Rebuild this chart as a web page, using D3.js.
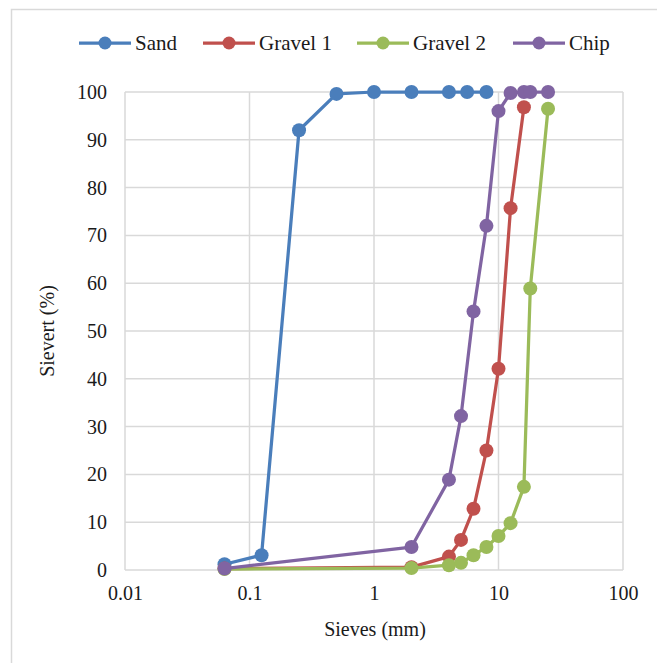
<!DOCTYPE html>
<html>
<head>
<meta charset="utf-8">
<script src="https://cdn.jsdelivr.net/npm/d3@7"></script>
<style>
  body { margin: 0; background: #fff; }
  svg { display: block; }
  svg text { font-family: "Liberation Serif", "Times New Roman", "DejaVu Serif", serif !important; fill: #1a1a1a; }
</style>
</head>
<body>
<svg id="chart" width="657" height="663"></svg>
<script>
// sieve sizes (mm) and percent passing for each material
const sandSizes = [0.063, 0.125, 0.25, 0.5, 1, 2, 4, 5.6, 8];
const sandPass = [1.2, 3.1, 92, 99.6, 100, 100, 100, 100, 100];

const gravel1Sizes = [0.063, 2, 4, 5, 6.3, 8, 10, 12.5, 16];
const gravel1Pass = [0.3, 0.6, 2.8, 6.3, 12.8, 25, 42.1, 75.7, 96.8];

const gravel2Sizes = [0.063, 2, 4, 5, 6.3, 8, 10, 12.5, 16, 18, 25];
const gravel2Pass = [0.2, 0.4, 1.0, 1.5, 3.1, 4.8, 7.1, 9.8, 17.4, 58.9, 96.5];

const chipSizes = [0.063, 2, 4, 5, 6.3, 8, 10, 12.5, 16, 18, 25];
const chipPass = [0.3, 4.8, 18.9, 32.2, 54.1, 72, 96, 99.8, 100, 100, 100];

const seriesNames = ["Sand", "Gravel 1", "Gravel 2", "Chip"];
const seriesColors = ["#4a7ebb", "#c0504d", "#9bbb59", "#8064a2"];

const xTicks = [0.01, 0.1, 1, 10, 100];
const yTicks = [0, 10, 20, 30, 40, 50, 60, 70, 80, 90, 100];

const series = [
    { name: seriesNames[0], x: sandSizes, y: sandPass },
    { name: seriesNames[1], x: gravel1Sizes, y: gravel1Pass },
    { name: seriesNames[2], x: gravel2Sizes, y: gravel2Pass },
    { name: seriesNames[3], x: chipSizes, y: chipPass }
].map((s, i) => ({
    name: s.name,
    color: seriesColors[i],
    points: s.x.map((d, j) => ({ x: d, y: s.y[j] }))
}));

const svg = d3.select("#chart");

// outer chart frame (only top/left edges fall inside the picture)
svg.append("rect")
    .attr("x", 11.5).attr("y", 9.5)
    .attr("width", 700).attr("height", 700)
    .attr("fill", "none")
    .attr("stroke", "#d9d9d9")
    .attr("stroke-width", 1.5);

const plot = { left: 125, right: 623, top: 92, bottom: 570 };

const x = d3.scaleLog().domain([0.01, 100]).range([plot.left, plot.right]);
const y = d3.scaleLinear().domain([0, 100]).range([plot.bottom, plot.top]);

// gridlines
svg.append("g")
    .attr("stroke", "#d9d9d9")
    .attr("stroke-width", 1.5)
    .selectAll("line")
    .data(yTicks)
    .join("line")
    .attr("x1", plot.left).attr("x2", plot.right)
    .attr("y1", d => y(d)).attr("y2", d => y(d));

svg.append("g")
    .attr("stroke", "#d9d9d9")
    .attr("stroke-width", 1.5)
    .selectAll("line")
    .data(xTicks)
    .join("line")
    .attr("x1", d => x(d)).attr("x2", d => x(d))
    .attr("y1", plot.top).attr("y2", plot.bottom);

// axes (labels only, lines drawn by grid)
const yAxis = svg.append("g")
    .attr("transform", `translate(${plot.left},0)`)
    .call(d3.axisLeft(y).tickValues(yTicks).tickSize(0).tickPadding(18));
yAxis.select(".domain").remove();
yAxis.selectAll("text").style("font-size", "20px");

const xAxis = svg.append("g")
    .attr("transform", `translate(0,${plot.bottom})`)
    .call(d3.axisBottom(x).tickValues(xTicks).tickFormat(d => String(d)).tickSize(0).tickPadding(16));
xAxis.select(".domain").remove();
xAxis.selectAll("text").style("font-size", "20px");

// axis titles
svg.append("text")
    .attr("x", (plot.left + plot.right) / 2 + 1)
    .attr("y", 636)
    .attr("text-anchor", "middle")
    .style("font-size", "20px")
    .text("Sieves (mm)");

svg.append("text")
    .attr("transform", `translate(54,${(plot.top + plot.bottom) / 2}) rotate(-90)`)
    .attr("text-anchor", "middle")
    .style("font-size", "20px")
    .text("Sievert (%)");

// series
const line = d3.line().x(d => x(d.x)).y(d => y(d.y));

const g = svg.append("g");
series.forEach(s => {
    g.append("path")
        .datum(s.points)
        .attr("fill", "none")
        .attr("stroke", s.color)
        .attr("stroke-width", 3.25)
        .attr("stroke-linejoin", "round")
        .attr("d", line);
    g.append("g")
        .selectAll("circle")
        .data(s.points)
        .join("circle")
        .attr("cx", d => x(d.x))
        .attr("cy", d => y(d.y))
        .attr("r", 7)
        .attr("fill", s.color);
});

// legend
const legendX = [79, 203, 357, 513];
const legend = svg.append("g");
series.forEach((s, i) => {
    const lg = legend.append("g").attr("transform", `translate(${legendX[i]},43)`);
    lg.append("line")
        .attr("x1", 0).attr("x2", 52)
        .attr("stroke", s.color).attr("stroke-width", 3.25);
    lg.append("circle").attr("cx", 26).attr("r", 6.5).attr("fill", s.color);
    lg.append("text")
        .attr("x", 56).attr("dy", "0.35em")
        .style("font-size", "21px")
        .text(s.name);
});
</script>
</body>
</html>
